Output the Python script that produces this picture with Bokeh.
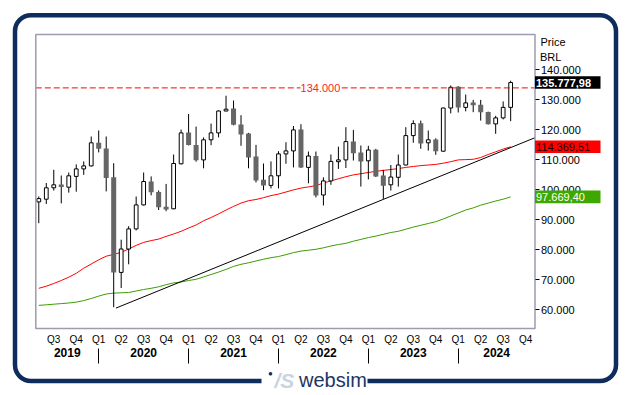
import numpy as np
import pandas as pd
from bokeh.plotting import figure
from bokeh.models import (LinearAxis, FixedTicker, Range1d, Label,
                          BoxAnnotation, ColumnDataSource)
from bokeh.core.properties import value
from bokeh.embed import file_html
from bokeh.resources import INLINE

# ---------------- data (values in thousand BRL) ----------------
months = pd.date_range("2019-05-01", "2024-08-01", freq="MS")
opens = [96.0, 96.9, 100.7, 101.8, 100.9, 104.5, 107.0, 108.0, 115.7, 113.8,
         104.2, 72.5, 80.3, 87.0, 95.0, 102.8, 99.3, 94.4, 93.7, 108.7,
         119.1, 115.0, 110.0, 116.7, 119.0, 126.3, 127.1, 121.8, 118.8, 111.1,
         103.4, 101.5, 104.7, 112.0, 113.0, 120.1, 107.5, 111.3, 98.3, 103.0,
         109.4, 110.0, 116.1, 112.5, 109.7, 113.4, 104.8, 101.7, 104.2, 108.3,
         118.1, 122.2, 115.7, 116.8, 112.9, 127.3, 134.4, 127.5, 129.1, 128.4,
         126.0, 122.0, 124.0, 127.5]
highs = [97.8, 102.3, 106.7, 104.8, 105.8, 108.5, 109.5, 117.8, 119.8, 117.8,
         108.9, 83.4, 87.9, 97.8, 105.8, 104.5, 99.8, 102.0, 111.8, 120.1,
         125.3, 121.1, 117.5, 122.1, 126.5, 131.4, 129.8, 124.9, 119.0, 115.0,
         108.8, 109.5, 112.9, 115.9, 121.3, 121.9, 112.8, 112.8, 104.2, 111.8,
         114.4, 120.9, 120.0, 114.8, 114.7, 113.7, 106.7, 108.3, 111.8, 120.9,
         123.2, 123.1, 119.8, 117.2, 127.4, 134.8, 134.6, 131.8, 130.0, 130.0,
         126.1, 124.7, 129.5, 136.4]
lows = [88.9, 95.3, 99.8, 95.5, 99.1, 99.4, 105.0, 107.8, 112.5, 99.5,
        60.9, 67.3, 75.2, 86.5, 94.8, 98.2, 93.3, 92.9, 93.6, 108.5,
        114.8, 109.4, 107.2, 114.9, 117.5, 126.2, 121.5, 114.7, 107.2, 102.5,
        99.9, 100.5, 100.5, 108.7, 107.5, 107.3, 102.2, 97.5, 94.8, 101.7,
        107.0, 107.3, 109.8, 101.1, 103.5, 104.3, 97.0, 99.8, 101.1, 108.2,
        115.7, 113.7, 113.1, 111.7, 112.8, 125.5, 125.8, 126.2, 125.9, 123.1,
        121.8, 118.7, 123.5, 122.9]
closes = [97.1, 100.7, 101.7, 101.0, 104.7, 107.0, 108.0, 115.7, 113.7, 104.0,
          72.5, 80.3, 87.0, 95.0, 102.8, 99.2, 94.2, 93.5, 108.8, 119.0,
          115.0, 109.9, 116.7, 119.0, 126.3, 126.9, 121.7, 118.5, 110.8, 103.1,
          101.5, 104.7, 112.0, 113.0, 120.0, 107.5, 111.3, 98.1, 103.0, 109.5,
          110.0, 116.1, 112.2, 109.5, 113.3, 104.5, 101.4, 104.3, 108.3, 118.1,
          122.1, 115.5, 116.7, 112.9, 127.3, 134.2, 127.5, 129.0, 128.2, 125.9,
          121.9, 124.0, 127.5, 135.78]

# moving averages, one value per candle
ma_red = [67.2, 67.9, 68.8, 69.8, 70.9, 72.2, 73.9, 75.3, 76.7, 77.9,
          78.5, 79.2, 80.3, 81.5, 82.5, 83.1, 83.6, 84.5, 85.3, 86.2,
          87.3, 88.3, 89.7, 90.8, 92.0, 93.3, 94.5, 95.6, 96.4, 96.8,
          97.4, 98.1, 98.6, 99.3, 100.0, 100.6, 101.0, 101.4, 102.3, 103.0,
          103.7, 104.4, 105.0, 105.4, 105.8, 106.2, 106.5, 106.8, 107.1, 107.5,
          107.8, 108.1, 108.3, 108.5, 108.9, 109.4, 110.0, 110.1, 110.2, 110.8,
          111.8, 112.7, 113.6, 114.37]
ma_green = [61.5, 61.7, 61.9, 62.1, 62.3, 62.6, 63.1, 63.8, 64.6, 65.3,
            65.6, 65.7, 65.8, 66.3, 66.8, 67.2, 67.7, 68.4, 69.0, 69.3,
            69.8, 70.2, 71.0, 71.8, 72.6, 73.5, 74.5, 75.2, 75.7, 76.3,
            76.9, 77.4, 77.8, 78.4, 79.1, 79.6, 79.9, 80.2, 80.7, 81.3,
            81.8, 82.2, 82.9, 83.5, 84.1, 84.6, 85.2, 85.8, 86.2, 86.9,
            87.6, 88.2, 88.8, 89.4, 90.3, 91.3, 92.3, 93.3, 94.0, 94.9,
            95.6, 96.3, 96.9, 97.67]

trend_x = [10.3, 66.25]          # month index (0 = May 2019)
trend_y = [60.6, 117.4]
resistance = 134.0

price_ticks = [60, 70, 80, 90, 100, 110, 120, 130, 140]
price_tick_labels = ["60.000", "70.000", "80.000", "90.000", "100.000",
                     "110.000", "120.000", "130.000", "140.000"]
year_labels = ["2019", "2020", "2021", "2022", "2023", "2024"]
tag_values = [closes[-1], ma_red[-1], ma_green[-1]]
tag_labels = ["135.777,98", "114.369,51", "97.669,40"]
tag_fill = ["#000000", "#ff0000", "#3fa800"]
tag_text = ["#ffffff", "#1a0000", "#ffffff"]
tag_style = ["bold", "normal", "normal"]

# ---------------- layout: chart box in page pixels <-> data ----------------
W, H = 629, 395
X_LO, X_HI = -0.4, 66.25          # chart x extent (month index)
Y_LO, Y_HI = 53.8, 151.8          # chart y extent (thousand BRL)
BOX_L, BOX_R, BOX_T, BOX_B = 35.3, 534.5, 34.0, 328.0
sx = (BOX_R - BOX_L) / (X_HI - X_LO)
sy = (BOX_B - BOX_T) / (Y_HI - Y_LO)

def px(xp):   # page x -> data x
    return X_LO + (xp - BOX_L) / sx

def py(yp):   # page y -> data y
    return Y_HI - (yp - BOX_T) / sy

def month_index(ts):
    return (ts.year - months[0].year) * 12 + ts.month - months[0].month

x = np.array([month_index(m) for m in months], dtype=float)
o, h, l, c = map(np.array, (opens, highs, lows, closes))
up = c >= o

FONT = "Liberation Sans"
NAVY = "#0f2d5c"

p = figure(width=W, height=H, output_backend="svg", toolbar_location=None,
           x_range=Range1d(px(0), px(W)), y_range=Range1d(py(H), py(0)),
           x_axis_location=None, y_axis_location=None, title=None,
           min_border=0)
p.grid.visible = False
p.outline_line_color = None
p.background_fill_color = "white"
p.border_fill_color = "white"

# right price axis (fixed at chart's right edge)
yax = LinearAxis(ticker=FixedTicker(ticks=price_ticks), fixed_location=X_HI,
                 major_label_overrides=dict(zip(price_ticks, price_tick_labels)))
yax.axis_line_color = None
yax.major_tick_in = 0
yax.major_tick_out = 4
yax.major_tick_line_color = "black"
yax.minor_tick_line_color = None
yax.major_label_standoff = 2
yax.major_label_text_font = FONT
yax.major_label_text_font_size = "11px"
yax.major_label_text_color = "black"
p.add_layout(yax, "right")

# quarter axis (fixed at chart's bottom edge)
quarters = pd.date_range("2019-07-01", "2024-10-01", freq="QS")
q_pos = [float(month_index(q)) for q in quarters]
q_lab = ["Q%d" % ((q.month - 1) // 3 + 1) for q in quarters]
qax = LinearAxis(ticker=FixedTicker(ticks=q_pos), fixed_location=Y_LO,
                 major_label_overrides=dict(zip(q_pos, q_lab)))
qax.axis_line_color = None
qax.major_tick_in = 0
qax.major_tick_out = 0
qax.minor_tick_line_color = None
qax.major_label_standoff = 5
qax.major_label_text_font = FONT
qax.major_label_text_font_size = "10px"
qax.major_label_text_color = "black"
p.add_layout(qax, "below")

# year axis: labels centred in each year
seps = [float(month_index(pd.Timestamp(f"{y}-01-01"))) for y in range(2020, 2025)]
bounds = [X_LO] + seps + [X_HI]
y_pos = [(bounds[k] + bounds[k + 1]) / 2 for k in range(len(year_labels))]
yrax = LinearAxis(ticker=FixedTicker(ticks=y_pos), fixed_location=py(347.5),
                  major_label_overrides=dict(zip(y_pos, year_labels)))
yrax.axis_line_color = None
yrax.major_tick_in = 0
yrax.major_tick_out = 0
yrax.major_tick_line_color = None
yrax.minor_tick_line_color = None
yrax.major_label_standoff = 0
yrax.major_label_text_font = FONT
yrax.major_label_text_font_size = "12px"
yrax.major_label_text_font_style = "bold"
yrax.major_label_text_color = "black"
p.add_layout(yrax, "below")

# year separators: ticks of an unlabeled axis
sax = LinearAxis(ticker=FixedTicker(ticks=seps), fixed_location=py(347.7),
                 major_label_overrides={s: "" for s in seps})
sax.axis_line_color = None
sax.major_tick_in = 0
sax.major_tick_out = 15
sax.major_tick_line_color = "black"
sax.major_tick_line_width = 1
sax.minor_tick_line_color = None
sax.major_label_text_font_size = "1px"
p.add_layout(sax, "below")

# moving averages and trend line
p.line(x, ma_green, line_color="#3c9d00", line_width=1)
p.line(x, ma_red, line_color="#ff0000", line_width=1)
p.line(trend_x, trend_y, line_color="black", line_width=1)

# candles
p.segment(x0=x, y0=l, x1=x, y1=h, line_color="black", line_width=1)
src_up = ColumnDataSource(dict(x=x[up], top=c[up], bottom=o[up]))
src_dn = ColumnDataSource(dict(x=x[~up], top=o[~up], bottom=c[~up]))
p.vbar(x="x", width=0.5, top="top", bottom="bottom", source=src_up,
       fill_color="white", line_color="black", line_width=1)
p.vbar(x="x", width=0.67, top="top", bottom="bottom", source=src_dn,
       fill_color="#666666", line_color=None)

# resistance line
p.segment(x0=[X_LO], y0=[resistance], x1=[X_HI], y1=[resistance],
          line_color="#ff0000", line_dash="6 3", line_width=1)
p.add_layout(Label(x=37.6, y=resistance, text="134.000", text_align="center",
                   text_baseline="middle", text_color="#ff2222",
                   text_font=FONT, text_font_size="11px",
                   background_fill_color="white", padding=(0, 3)))

# chart frame
p.quad(left=[X_LO], right=[X_HI], bottom=[Y_LO], top=[Y_HI], fill_color=None,
       line_color="#9c9cb0", line_width=1.5)

# price tags on the right (drawn above the axis labels)
tags = ColumnDataSource(dict(y=tag_values, lab=tag_labels, fill=tag_fill,
                             tc=tag_text, st=tag_style,
                             top=[v + 2.1 for v in tag_values],
                             bottom=[v - 2.1 for v in tag_values]))
p.quad(left=X_HI, right=px(600), top="top", bottom="bottom", source=tags,
       fill_color="fill", line_color=None, level="overlay")
p.text(x=X_HI, y="y", text="lab", source=tags, x_offset=1,
       text_color="tc", text_font_style="st", text_font=value(FONT),
       text_font_size="11px", text_baseline="middle", text_align="left",
       level="overlay")

p.add_layout(Label(x=px(540), y=py(41.7), text="Price", text_baseline="middle",
                   text_font=FONT, text_font_size="11px", text_color="black"))
p.add_layout(Label(x=px(539.5), y=py(56.7), text="BRL", text_baseline="middle",
                   text_font=FONT, text_font_size="11px", text_color="black"))

# card border
p.add_layout(BoxAnnotation(left=px(14.5), right=px(615.5), top=py(14.7), bottom=py(380.5),
                           fill_color=None, fill_alpha=0, line_color=NAVY,
                           line_alpha=1, line_width=4.5, border_radius=16))

# websim logo over the bottom border
p.quad(left=[px(261)], right=[px(367)], top=[py(374)], bottom=[py(387)],
       fill_color="white", line_color=None, level="overlay")
p.text(x=[px(270)], y=[py(372.5)], text=["\u25cf"], text_align="center",
       text_baseline="middle", text_color=NAVY, text_font_size="8px",
       level="overlay")
p.text(x=[px(274)], y=[py(380)], text=["/S"], text_baseline="middle",
       text_color="#c8d4e2", text_font=value(FONT), text_font_size="21px",
       text_font_style="bold italic", level="overlay")
p.text(x=[px(298.5)], y=[py(379.5)], text=["websim"], text_baseline="middle",
       text_color="#1c3564", text_font=value(FONT), text_font_size="20px",
       level="overlay")

open("out.html", "w").write(file_html(p, INLINE))
